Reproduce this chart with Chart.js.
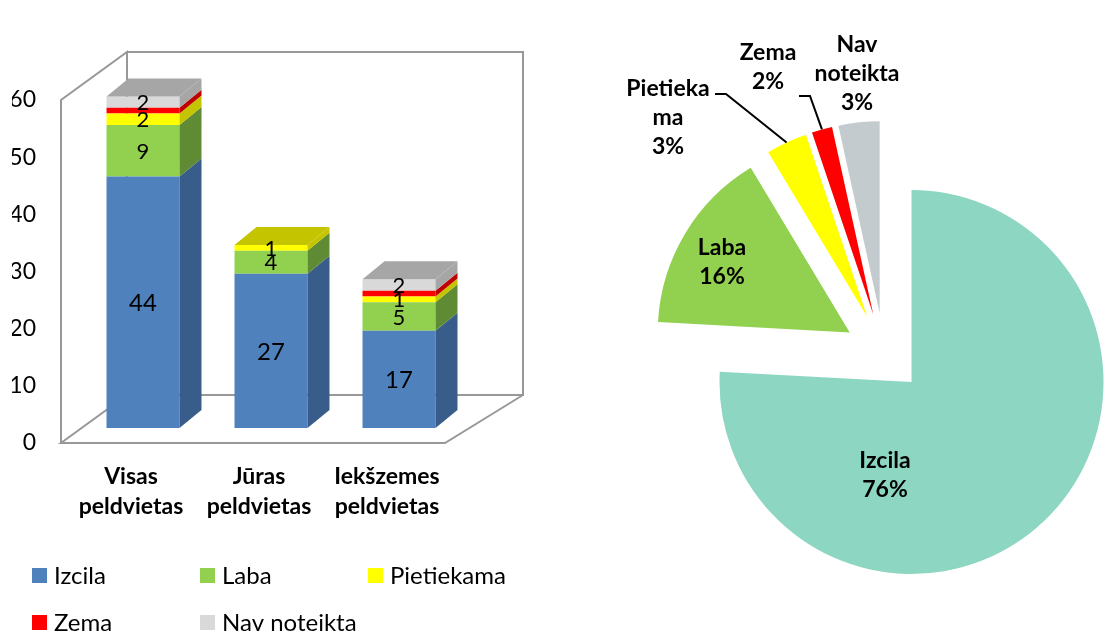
<!DOCTYPE html>
<html>
<head>
    <meta charset="utf-8">
    <title>Peldvietu ūdens kvalitāte</title>
    <script src="https://cdn.jsdelivr.net/npm/chart.js"></script>
    <style>
        body { margin: 0; background: #fff; }
        #barChart { position: absolute; left: 0; top: 0; }
        #pieChart { position: absolute; left: 560px; top: 0; }
    </style>
</head>
<body>
    <canvas id="barChart" width="560" height="633"></canvas>
    <canvas id="pieChart" width="556" height="633"></canvas>

    <script>
        // data
        const categories = [['Visas', 'peldvietas'], ['Jūras', 'peldvietas'], ['Iekšzemes', 'peldvietas']];
        const izcila = [44, 27, 17];
        const laba = [9, 4, 5];
        const pietiekama = [2, 1, 1];
        const zema = [1, 0, 1];
        const navNoteikta = [2, 0, 2];
        const yTicks = [0, 10, 20, 30, 40, 50, 60];

        const pieLabels = ['Izcila', 'Laba', 'Pietiekama', 'Zema', 'Nav noteikta'];
        const pieValues = [44, 9, 2, 1, 2];

        const FONT = 'Lato';

        const series = [
            { label: 'Izcila', data: izcila, color: '#4f81bd', dark: '#385d8a', showLabel: true },
            { label: 'Laba', data: laba, color: '#92d050', dark: '#5f8b34', showLabel: true },
            { label: 'Pietiekama', data: pietiekama, color: '#ffff00', dark: '#c4c400', showLabel: true },
            { label: 'Zema', data: zema, color: '#ff0000', dark: '#c00000', showLabel: false },
            { label: 'Nav noteikta', data: navNoteikta, color: '#d9d9d9', dark: '#a6a6a6', showLabel: true }
        ];

        // fake 3D: side/top faces, box walls, labels, legend
        const depth = { dx: 22, dy: -18 };
        const box = { fx: -18, fy: 15, bxl: 48, bxr: 60, by: -33 };

        const bar3d = {
            id: 'bar3d',
            beforeDatasetsDraw(chart) {
                const ctx = chart.ctx, ca = chart.chartArea, ys = chart.scales.y;
                const top = ys.getPixelForValue(yTicks[yTicks.length - 1]);
                const bot = ys.getPixelForValue(0);
                const fl = ca.left + box.fx, fr = ca.right + box.fx;
                const ft = top + box.fy, fb = bot + box.fy;
                const bl = ca.left + box.bxl, br = ca.right + box.bxr;
                const bt = top + box.by, bb = bot + box.by;
                ctx.save();
                ctx.strokeStyle = '#989898';
                ctx.lineWidth = 2;
                ctx.beginPath();
                ctx.moveTo(fl, fb); ctx.lineTo(fl, ft); ctx.lineTo(bl, bt); ctx.lineTo(bl, bb);
                ctx.moveTo(bl, bt); ctx.lineTo(br, bt); ctx.lineTo(br, bb); ctx.lineTo(bl, bb);
                ctx.lineTo(fl, fb); ctx.lineTo(fr, fb); ctx.lineTo(br, bb);
                ctx.stroke();
                ctx.restore();
            },
            afterDatasetsDraw(chart) {
                const ctx = chart.ctx;
                const n = chart.data.labels.length;
                ctx.save();
                for (let j = 0; j < n; j++) {
                    let topIdx = -1;
                    chart.data.datasets.forEach((ds, i) => { if (ds.data[j] > 0) topIdx = i; });
                    chart.data.datasets.forEach((ds, i) => {
                        if (!(ds.data[j] > 0)) return;
                        const el = chart.getDatasetMeta(i).data[j];
                        const x0 = el.x - el.width / 2, x1 = el.x + el.width / 2;
                        ctx.fillStyle = series[i].dark;
                        ctx.beginPath();
                        ctx.moveTo(x1, el.y);
                        ctx.lineTo(x1 + depth.dx, el.y + depth.dy);
                        ctx.lineTo(x1 + depth.dx, el.base + depth.dy);
                        ctx.lineTo(x1, el.base);
                        ctx.closePath();
                        ctx.fill();
                        if (i === topIdx) {
                            ctx.beginPath();
                            ctx.moveTo(x0, el.y);
                            ctx.lineTo(x1, el.y);
                            ctx.lineTo(x1 + depth.dx, el.y + depth.dy);
                            ctx.lineTo(x0 + depth.dx, el.y + depth.dy);
                            ctx.closePath();
                            ctx.fill();
                        }
                    });
                }
                // value labels
                ctx.fillStyle = '#000';
                ctx.textAlign = 'center';
                ctx.textBaseline = 'middle';
                chart.data.datasets.forEach((ds, i) => {
                    if (!series[i].showLabel) return;
                    chart.getDatasetMeta(i).data.forEach((el, j) => {
                        const v = ds.data[j];
                        if (!(v > 0)) return;
                        ctx.font = (v >= 10 ? '24px ' : '22px ') + FONT;
                        ctx.fillText(String(v), el.x, (el.y + el.base) / 2 + 1);
                    });
                });
                ctx.restore();
            },
            afterDraw(chart) {
                const ctx = chart.ctx;
                ctx.save();
                ctx.font = '24px ' + FONT;
                ctx.textBaseline = 'middle';
                ctx.textAlign = 'left';
                series.forEach((s, i) => {
                    const col = i % 3, row = Math.floor(i / 3);
                    const x = 32 + col * 168, y = 575 + row * 47;
                    ctx.fillStyle = s.color;
                    ctx.fillRect(x, y - 7, 15, 15);
                    ctx.fillStyle = '#000';
                    ctx.fillText(s.label, x + 22, y + 1);
                });
                ctx.restore();
            }
        };

        new Chart(document.getElementById('barChart'), {
            type: 'bar',
            data: {
                labels: categories,
                datasets: series.map(s => ({
                    label: s.label,
                    data: s.data,
                    backgroundColor: s.color,
                    borderWidth: 0,
                    barPercentage: 0.57,
                    categoryPercentage: 1
                }))
            },
            options: {
                responsive: false,
                animation: false,
                layout: { padding: { left: 12, right: 97, top: 85, bottom: 100 } },
                plugins: { legend: { display: false }, tooltip: { enabled: false } },
                scales: {
                    x: {
                        stacked: true,
                        grid: { display: false, drawTicks: false },
                        border: { display: false },
                        afterFit: s => { s.height = 105; },
                        ticks: {
                            color: '#000',
                            font: { family: FONT, size: 23, weight: 'bold', lineHeight: 1.3 },
                            padding: 34,
                            labelOffset: -12,
                            maxRotation: 0,
                            autoSkip: false
                        }
                    },
                    y: {
                        stacked: true,
                        min: 0,
                        max: 60,
                        grid: { display: false, drawTicks: false },
                        border: { display: false },
                        afterFit: s => { s.width = 67; },
                        afterBuildTicks: s => { s.ticks = yTicks.map(v => ({ value: v })); },
                        ticks: {
                            color: '#000',
                            font: { family: FONT, size: 23 },
                            padding: 43,
                            labelOffset: 15
                        }
                    }
                }
            },
            plugins: [bar3d]
        });

        // exploded pie with outside labels
        const explode = 40;
        const pieLabelPos = [
            { dx: 1, dy: 122 },
            { dx: -162, dy: -91 },
            { dx: -216, dy: -235, lines: ['Pietieka', 'ma'], leader: { x: 47, y: -24 } },
            { dx: -116, dy: -286, leader: { x: 31, y: 29 } },
            { dx: -27, dy: -279, lines: ['Nav', 'noteikta'] }
        ];

        const pieExtras = {
            id: 'pieExtras',
            beforeDatasetsDraw(chart) {
                const ca = chart.chartArea;
                const cx = (ca.left + ca.right) / 2, cy = (ca.top + ca.bottom) / 2;
                chart.getDatasetMeta(0).data.forEach(a => {
                    const m = (a.startAngle + a.endAngle) / 2;
                    a.x = cx + Math.cos(m) * explode;
                    a.y = cy + Math.sin(m) * explode;
                });
            },
            afterDatasetsDraw(chart) {
                const ctx = chart.ctx, ca = chart.chartArea;
                const cx = (ca.left + ca.right) / 2, cy = (ca.top + ca.bottom) / 2;
                const vals = chart.data.datasets[0].data;
                const total = vals.reduce((a, b) => a + b, 0);
                const meta = chart.getDatasetMeta(0);
                ctx.save();
                ctx.font = 'bold 23px ' + FONT;
                ctx.fillStyle = '#000';
                ctx.textAlign = 'center';
                ctx.textBaseline = 'middle';
                const lh = 29;
                vals.forEach((v, i) => {
                    const p = pieLabelPos[i];
                    const lines = (p.lines || [chart.data.labels[i]]).concat([Math.round(v / total * 100) + '%']);
                    const lx = cx + p.dx, ly = cy + p.dy;
                    lines.forEach((t, k) => {
                        ctx.fillText(t, lx, ly + (k - (lines.length - 1) / 2) * lh);
                    });
                    if (p.leader) {
                        const a = meta.data[i];
                        const m = (a.startAngle + a.endAngle) / 2;
                        const ex = a.x + Math.cos(m) * a.outerRadius;
                        const ey = a.y + Math.sin(m) * a.outerRadius;
                        const sx = lx + p.leader.x, sy = ly + p.leader.y;
                        ctx.strokeStyle = '#000';
                        ctx.lineWidth = 2;
                        ctx.beginPath();
                        ctx.moveTo(sx, sy);
                        ctx.lineTo(sx + 11, sy);
                        ctx.lineTo(ex, ey);
                        ctx.stroke();
                    }
                });
                ctx.restore();
            }
        };

        new Chart(document.getElementById('pieChart'), {
            type: 'pie',
            data: {
                labels: pieLabels,
                datasets: [{
                    data: pieValues,
                    backgroundColor: ['#8cd6c2', '#92d050', '#ffff00', '#ff0000', '#c4cbcf'],
                    borderWidth: 0
                }]
            },
            options: {
                responsive: false,
                animation: false,
                radius: 192,
                layout: { padding: { left: 92, right: 0, top: 73, bottom: 0 } },
                plugins: { legend: { display: false }, tooltip: { enabled: false } }
            },
            plugins: [pieExtras]
        });
    </script>
</body>
</html>
